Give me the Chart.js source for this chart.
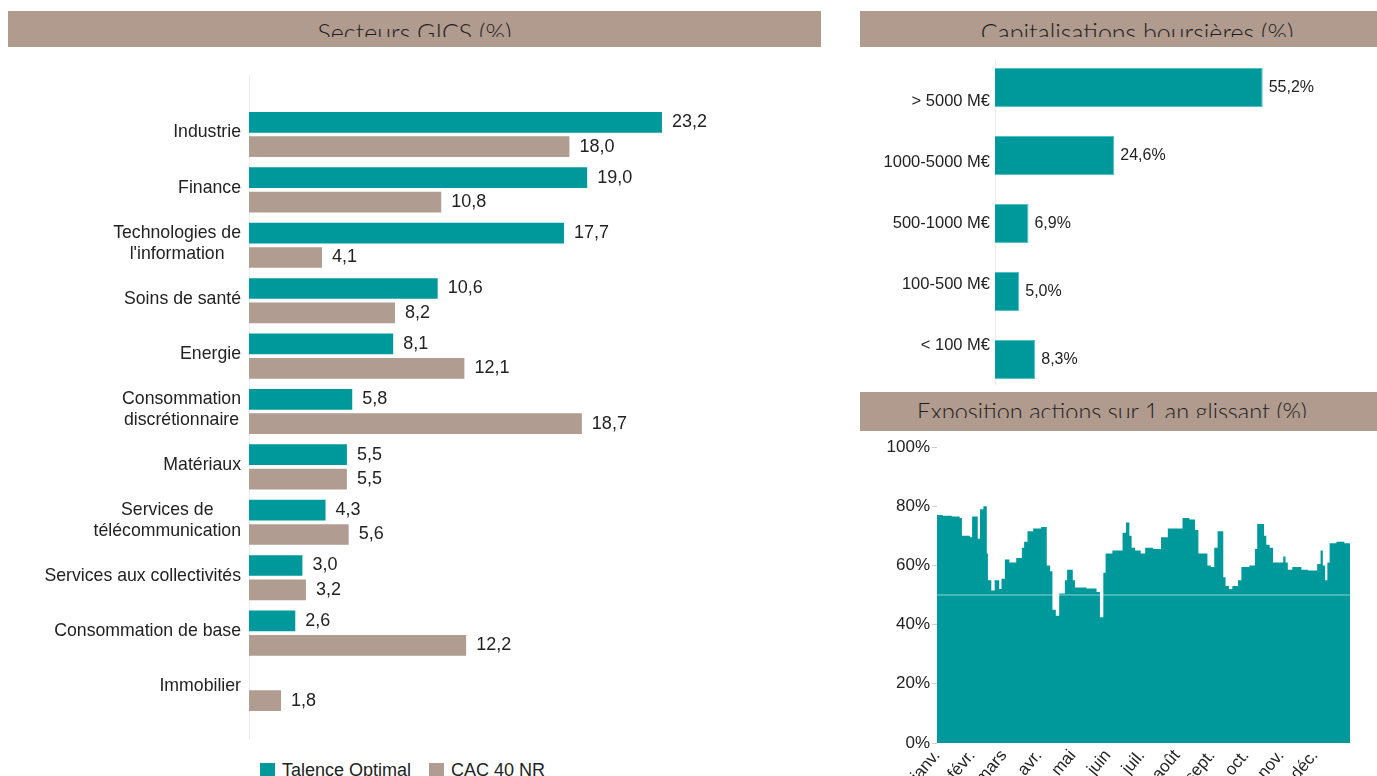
<!DOCTYPE html>
<html lang="fr">
<head>
<meta charset="utf-8">
<title>Talence Optimal</title>
<script src="https://cdn.jsdelivr.net/npm/chart.js@4.4.1/dist/chart.umd.min.js"></script>
<style>
    html, body { margin: 0; padding: 0; background: #fff; }
    body { width: 1377px; height: 776px; overflow: hidden; position: relative; font-family: 'Liberation Sans', Arial, sans-serif; }
    canvas { position: absolute; }
    .bandeau { position: absolute; background: #b09b8e; overflow: hidden; }
    .bandeau .clip { position: absolute; left: 0; right: 0; top: 0; height: 26px; overflow: hidden; }
    .bandeau .titre { position: absolute; left: 0; right: 0; text-align: center; white-space: nowrap;
        font: 300 25px/25px Lato, sans-serif; color: #1e1e1e; }
    #legende { position: absolute; left: 260px; top: 760px; display: flex; align-items: center;
        font-size: 18px; color: #222; }
    #legende .carre { width: 15px; height: 15px; margin-right: 7px; }
</style>
</head>
<body>

<div class="bandeau" style="left:8px; top:11px; width:813px; height:36px;">
    <div class="clip"><div class="titre" style="top:9px;">Secteurs GICS (%)</div></div>
</div>
<div class="bandeau" style="left:860px; top:11px; width:517px; height:36px;">
    <div class="clip"><div class="titre" style="top:9px; padding-left:37px;">Capitalisations boursières (%)</div></div>
</div>

<canvas id="secteurs" width="830" height="680" style="left:0; top:60px;"></canvas>
<canvas id="capis" width="517" height="345" style="left:860px; top:50px;"></canvas>
<canvas id="expo" width="517" height="361" style="left:860px; top:432px;"></canvas>

<div class="bandeau" style="left:860px; top:392px; width:517px; height:39px;">
    <div class="clip"><div class="titre" style="top:7px; padding-right:13px; font-size:23.5px;">Exposition actions sur 1 an glissant (%)</div></div>
</div>

<div id="legende">
    <span class="carre" style="background:#00999b"></span><span style="margin-right:18px">Talence Optimal</span>
    <span class="carre" style="background:#b09c91"></span><span>CAC 40 NR</span>
</div>

<script>
// Secteurs GICS (%)
const secteurs = [
    'Industrie', 'Finance', ['Technologies de', "l'information"], 'Soins de santé', 'Energie',
    ['Consommation', 'discrétionnaire'], 'Matériaux', ['Services de', 'télécommunication'],
    'Services aux collectivités', 'Consommation de base', 'Immobilier'
];
const talenceOptimal = [23.2, 19.0, 17.7, 10.6, 8.1, 5.8, 5.5, 4.3, 3.0, 2.6, null];
const cac40NR = [18.0, 10.8, 4.1, 8.2, 12.1, 18.7, 5.5, 5.6, 3.2, 12.2, 1.8];

// Capitalisations boursières (%)
const capitalisations = ['> 5000 M€', '1000-5000 M€', '500-1000 M€', '100-500 M€', '< 100 M€'];
const poidsCapis = [55.2, 24.6, 6.9, 5.0, 8.3];

// Exposition actions sur 1 an glissant (%) : jour de l'année où le niveau change, et niveau
const moisLabels = ['janv.', 'févr.', 'mars', 'avr.', 'mai', 'juin', 'juil.', 'août', 'sept.', 'oct.', 'nov.', 'déc.'];
const moisDebut = [0, 31, 59, 90, 120, 151, 181, 212, 243, 273, 304, 334];
const expoJours = [
    0, 5, 13, 20, 22, 29, 31, 36, 38, 41, 44, 45, 48, 51, 55, 57, 60, 64, 70, 75,
    77, 80, 85, 92, 97, 100, 102, 105, 108, 113, 115, 120, 122, 132, 141, 144, 147, 149, 155, 164,
    167, 170, 172, 175, 180, 184, 191, 198, 204, 217, 223, 228, 231, 239, 242, 245, 248, 253, 255, 258,
    261, 266, 269, 276, 281, 283, 289, 291, 294, 297, 306, 308, 310, 314, 322, 328, 336, 339, 341, 343,
    345, 347, 353, 360, 365
];
const expoValeurs = [
    77, 76.8, 76.5, 76, 70, 69.5, 76.5, 69, 79, 80, 64, 55, 51.5, 55, 52, 55.5, 62, 61, 62.5, 66,
    68, 71.5, 72.5, 73, 60, 58, 45, 43, 50.5, 55, 58.5, 55, 52.5, 52.2, 51, 42.5, 57.5, 64, 65, 71,
    74.5, 70, 66, 65, 64, 66, 65.5, 69.5, 72.5, 76, 75.5, 72, 64, 60, 59.5, 66, 71.5, 56, 53, 52,
    53, 55, 59.5, 60, 65.5, 74, 70, 67, 66, 61, 63, 61, 58.5, 59.5, 58.5, 58.3, 60.5, 65, 60, 55,
    61, 67.5, 68, 67.5, 67.5
];
const expoReference = 50;
const expoTicks = [0, 20, 40, 60, 80, 100];

const TEAL = '#00999b';
const TAUPE = '#b09c91';
const TEXTE = '#222';
const POLICE = "'Liberation Sans', Arial, sans-serif";

const virgule = (v, d) => v.toFixed(d).replace('.', ',');

// étiquettes de catégories dessinées à la main (lignes centrées entre elles, bloc aligné à droite)
function etiquettesY(opts) {
    return {
        id: 'etiquettesY',
        afterDraw(chart) {
            const { ctx } = chart;
            const scale = chart.scales.y;
            const mid = (scale.top + scale.bottom) / 2;
            ctx.save();
            ctx.font = opts.font;
            ctx.fillStyle = TEXTE;
            ctx.textAlign = 'center';
            ctx.textBaseline = 'middle';
            chart.data.labels.forEach((label, i) => {
                const lignes = Array.isArray(label) ? label : [label];
                const w = Math.max(...lignes.map(l => ctx.measureText(l).width));
                const cx = scale.right - opts.gap - w / 2;
                let y = scale.getPixelForValue(i);
                y = mid + (y - mid) * (opts.compression || 1) + (opts.decalage || 0);
                const y0 = y - (lignes.length - 1) * opts.interligne / 2;
                lignes.forEach((l, k) => ctx.fillText(l, cx, y0 + k * opts.interligne));
            });
            ctx.restore();
        }
    };
}

// valeurs au bout des barres
function valeursBarres(opts) {
    return {
        id: 'valeursBarres',
        afterDatasetsDraw(chart) {
            const { ctx } = chart;
            ctx.save();
            ctx.font = opts.font;
            ctx.fillStyle = TEXTE;
            ctx.textAlign = 'left';
            ctx.textBaseline = 'middle';
            chart.data.datasets.forEach((ds, di) => {
                chart.getDatasetMeta(di).data.forEach((bar, i) => {
                    const v = ds.data[i];
                    if (v == null) return;
                    ctx.fillText(opts.format(v), bar.x + opts.gap, bar.y + (opts.decalage || 0));
                });
            });
            ctx.restore();
        }
    };
}

// trait vertical de l'axe des catégories
function traitAxe(haut, bas) {
    return {
        id: 'traitAxe',
        beforeDatasetsDraw(chart) {
            const { ctx, chartArea } = chart;
            ctx.save();
            ctx.strokeStyle = '#ececec';
            ctx.lineWidth = 1;
            ctx.beginPath();
            ctx.moveTo(chartArea.left + 0.5, chartArea.top - haut);
            ctx.lineTo(chartArea.left + 0.5, chartArea.bottom + bas);
            ctx.stroke();
            ctx.restore();
        }
    };
}

// graphique secteurs
new Chart(document.getElementById('secteurs'), {
    type: 'bar',
    data: {
        labels: secteurs,
        datasets: [
            {
                label: 'Talence Optimal',
                data: talenceOptimal,
                backgroundColor: TEAL,
                categoryPercentage: 0.88,
                barPercentage: 0.85
            },
            {
                label: 'CAC 40 NR',
                data: cac40NR,
                backgroundColor: TAUPE,
                categoryPercentage: 0.88,
                barPercentage: 0.85
            }
        ]
    },
    options: {
        indexAxis: 'y',
        responsive: false,
        animation: false,
        layout: { padding: { top: 46.8, bottom: 23.8, left: 0, right: 47 } },
        scales: {
            x: { display: false, min: 0, max: 30 },
            y: {
                afterFit(scale) { scale.width = 249; },
                ticks: { display: false },
                grid: { display: false },
                border: { display: false }
            }
        },
        plugins: {
            legend: { display: false },
            tooltip: { enabled: false }
        }
    },
    plugins: [
        traitAxe(32, 24),
        etiquettesY({ font: `17.7px ${POLICE}`, gap: 8, interligne: 21, decalage: -2 }),
        valeursBarres({ font: `18px ${POLICE}`, gap: 10, format: v => virgule(v, 1) })
    ]
});

// graphique capitalisations
new Chart(document.getElementById('capis'), {
    type: 'bar',
    data: {
        labels: capitalisations,
        datasets: [{
            label: 'Capitalisations',
            data: poidsCapis,
            backgroundColor: TEAL,
            borderColor: '#4fc1c2',
            borderWidth: 1,
            categoryPercentage: 1,
            barPercentage: 0.574
        }]
    },
    options: {
        indexAxis: 'y',
        responsive: false,
        animation: false,
        layout: { padding: { top: 3.5, bottom: 1.5, left: 0, right: 91 } },
        scales: {
            x: { display: false, min: 0, max: 60 },
            y: {
                afterFit(scale) { scale.width = 135; },
                ticks: { display: false },
                grid: { display: false },
                border: { display: false }
            }
        },
        plugins: {
            legend: { display: false },
            tooltip: { enabled: false }
        }
    },
    plugins: [
        traitAxe(-6.5, -8.5),
        etiquettesY({ font: `16.5px ${POLICE}`, gap: 5, interligne: 18, compression: 0.9 }),
        valeursBarres({ font: `16px ${POLICE}`, gap: 6, format: v => virgule(v, 1) + '%' })
    ]
});

// graphique exposition actions
new Chart(document.getElementById('expo'), {
    type: 'line',
    data: {
        datasets: [
            {
                label: 'Référence',
                data: [{ x: 0, y: expoReference }, { x: 365, y: expoReference }],
                borderColor: 'rgba(255, 255, 255, 0.55)',
                borderWidth: 1,
                pointRadius: 0,
                fill: false,
                order: 0
            },
            {
                label: 'Exposition actions',
                data: expoJours.map((j, i) => ({ x: j, y: expoValeurs[i] })),
                stepped: true,
                borderWidth: 0,
                borderColor: TEAL,
                backgroundColor: TEAL,
                pointRadius: 0,
                fill: 'origin',
                order: 1
            }
        ]
    },
    options: {
        responsive: false,
        animation: false,
        layout: { padding: { top: 15, bottom: 0, left: 0, right: 27 } },
        scales: {
            x: {
                type: 'linear',
                min: 0,
                max: 365,
                afterFit(scale) { scale.height = 50; },
                afterBuildTicks(scale) { scale.ticks = moisDebut.map(v => ({ value: v })); },
                ticks: {
                    autoSkip: false,
                    maxRotation: 50,
                    minRotation: 50,
                    padding: -5,
                    color: TEXTE,
                    font: { family: POLICE, size: 17 },
                    callback: v => moisLabels[moisDebut.indexOf(v)]
                },
                grid: { display: false },
                border: { display: false }
            },
            y: {
                min: 0,
                max: 100,
                afterFit(scale) { scale.width = 77; },
                afterBuildTicks(scale) { scale.ticks = expoTicks.map(v => ({ value: v })); },
                ticks: {
                    padding: 2,
                    color: TEXTE,
                    font: { family: POLICE, size: 17 },
                    callback: v => v + '%'
                },
                grid: { drawOnChartArea: false, drawTicks: true, tickLength: 5, color: '#cfcfcf' },
                border: { display: false }
            }
        },
        plugins: {
            legend: { display: false },
            tooltip: { enabled: false }
        }
    }
});
</script>
</body>
</html>
